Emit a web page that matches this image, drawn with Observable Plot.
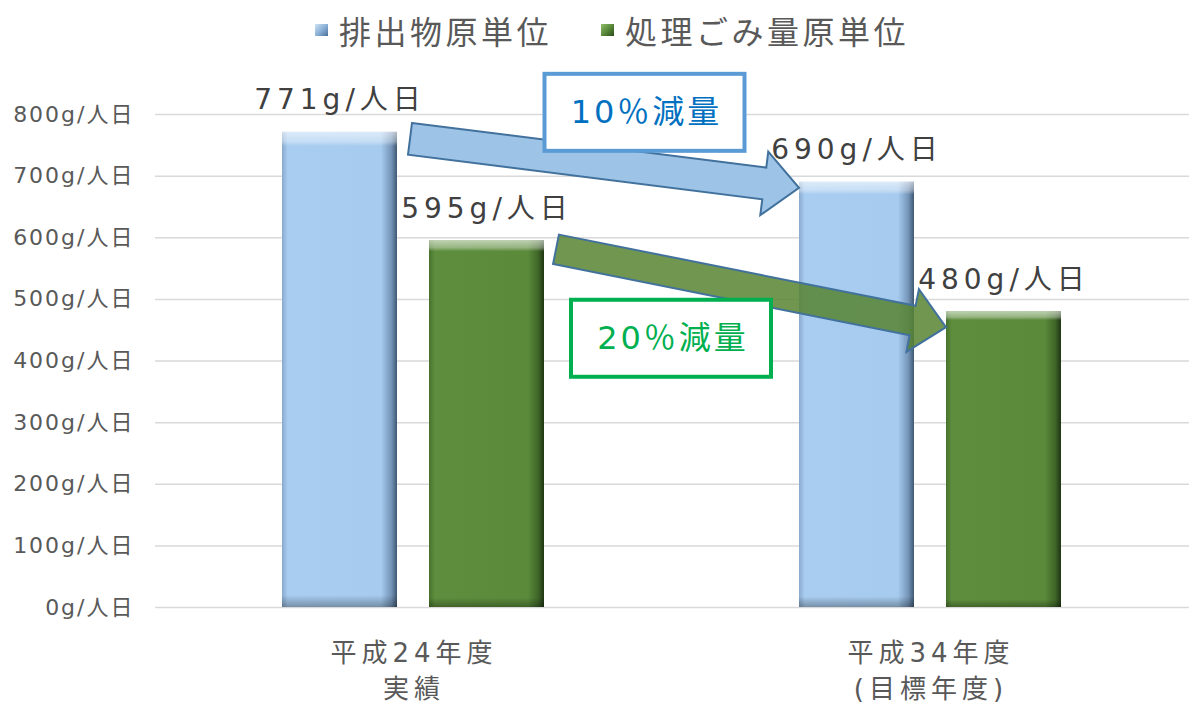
<!DOCTYPE html>
<html>
<head>
<meta charset="utf-8">
<script src="https://cdn.jsdelivr.net/npm/d3@7"></script>
<script src="https://cdn.jsdelivr.net/npm/@observablehq/plot@0.6"></script>
<style>
  body { margin: 0; background: #fff; font-family: "DejaVu Sans", "Noto Sans CJK JP", sans-serif; }
  #legend { position: relative; height: 64px; width: 1189px; }
  .item { position: absolute; top: 0; height: 60px; display: flex; align-items: center;
          font-family: "Noto Sans CJK JP", sans-serif; font-size: 32px; letter-spacing: 3.5px; color: #595959; }
  .sw { width: 13px; height: 12px; margin-right: 11px; }
  #chart svg { display: block; }
  #chart [aria-label^="y-axis"] text { letter-spacing: 2px; }
</style>
</head>
<body>
<div id="legend"></div>
<div id="chart"></div>
<script>
// ---- data ----
const years = ["平成24年度", "平成34年度"];
const yearLabels = ["平成24年度\n実績", "平成34年度\n(目標年度)"];
const series = ["排出物原単位", "処理ごみ量原単位"];
const emissionValues = [771, 690];
const processedValues = [595, 480];
const yTicks = [0, 100, 200, 300, 400, 500, 600, 700, 800];
const unit = "g/人日";
const changeLabels = ["10％減量", "20％減量"];

const data = years.flatMap((yr, i) => [
  {year: yr, series: series[0], value: emissionValues[i]},
  {year: yr, series: series[1], value: processedValues[i]}
]);
const labelRows = years.map((yr, i) => ({year: yr, label: yearLabels[i]}));

// ---- legend ----
const legend = document.getElementById("legend");
const legendSwatches = ["linear-gradient(135deg,#cfe3f7,#7fa6cf 60%,#4c6e93)", "linear-gradient(135deg,#8fbf6a,#4f7f31 60%,#2c4a1b)"];
const legendLeft = [315, 601];
series.forEach((s, i) => {
  const it = document.createElement("div");
  it.className = "item";
  it.style.left = legendLeft[i] + "px";
  it.innerHTML = `<div class="sw" style="background:${legendSwatches[i]}"></div><span>${s}</span>`;
  legend.appendChild(it);
});

// ---- chart ----
const W = 1189, H = 638;
const plot = Plot.plot({
  width: W, height: H,
  marginLeft: 154, marginRight: 0, marginTop: 50, marginBottom: 95,
  style: {fontFamily: '"DejaVu Sans","Noto Sans CJK JP",sans-serif', fontSize: "22px", color: "#595959", background: "white", overflow: "visible"},
  fx: {domain: years, padding: 0, axis: null},
  x: {domain: series, paddingInner: 0.216, paddingOuter: 0.857, axis: null},
  y: {domain: [0, 800], ticks: yTicks, tickFormat: d => d + unit, tickSize: 0, tickPadding: 21, label: null},
  marks: [
    Plot.ruleY(yTicks, {stroke: "#d9d9d9", strokeWidth: 1.5}),
    Plot.barY(data.filter(d => d.series === series[0]), {fx: "year", x: "series", y: "value", fill: "url(#gblue)"}),
    Plot.barY(data.filter(d => d.series === series[1]), {fx: "year", x: "series", y: "value", fill: "url(#ggreen)"}),
    Plot.barY(data, {fx: "year", x: "series", y: "value", fill: "url(#gtop)"}),
    Plot.text(data, {fx: "year", x: "series", y: "value", text: d => d.value + unit, dy: -32, fontSize: 28, fill: "#404040"}),
    Plot.text(labelRows, {fx: "year", text: "label", frameAnchor: "bottom", lineAnchor: "top", dy: 29, fontSize: 26, lineHeight: 1.38, fill: "#595959"})
  ]
});
document.getElementById("chart").appendChild(plot);

const svg = d3.select(plot);
const textGroups = plot.querySelectorAll('g[aria-label="text"]');
if (textGroups[0]) textGroups[0].setAttribute("style", "letter-spacing:5px");
if (textGroups[1]) textGroups[1].setAttribute("style", "letter-spacing:5px");

// gradients
const defs = svg.insert("defs", ":first-child");
function hgrad(id, stops) {
  const g = defs.append("linearGradient").attr("id", id).attr("x1", 0).attr("x2", 1).attr("y1", 0).attr("y2", 0);
  stops.forEach(([o, c]) => g.append("stop").attr("offset", o).attr("stop-color", c));
}
hgrad("gblue", [[0, "#88a9cc"], [0.05, "#a9cdf1"], [0.86, "#a6cbef"], [0.95, "#7595b8"], [1, "#3f5872"]]);
hgrad("ggreen", [[0, "#46722c"], [0.05, "#5e8e3d"], [0.86, "#5a8a3a"], [0.95, "#3f6628"], [1, "#1f3514"]]);
const gt = defs.append("linearGradient").attr("id", "gtop").attr("x1", 0).attr("x2", 0).attr("y1", 0).attr("y2", 1);
[[0, "white", 0.6], [0.02, "white", 0.35], [0.03, "white", 0], [0.975, "black", 0], [1, "black", 0.3]].forEach(([o, c, op]) =>
  gt.append("stop").attr("offset", o).attr("stop-color", c).attr("stop-opacity", op));

// ---- annotation arrows positioned from the scales ----
const fxS = plot.scale("fx"), xS = plot.scale("x"), yS = plot.scale("y");
const bw = xS.bandwidth;
const x0 = Math.min(...xS.range);
const barLeft = (yr, s) => fxS.apply(yr) + xS.apply(s) - x0;

function blockArrow(T, P, sw, hw, hl) {
  const dx = P[0] - T[0], dy = P[1] - T[1], L = Math.hypot(dx, dy);
  const u = [dx / L, dy / L], n = [-u[1], u[0]];
  const B = [P[0] - u[0] * hl, P[1] - u[1] * hl];
  const pt = (p, k) => [p[0] + n[0] * k, p[1] + n[1] * k];
  const pts = [pt(T, -sw), pt(B, -sw), pt(B, -hw), P, pt(B, hw), pt(B, sw), pt(T, sw)];
  return "M" + pts.map(p => p.join(",")).join("L") + "Z";
}

const ann = svg.append("g").attr("class", "annotations");
// blue: emissions 771 -> 690
const bT = [barLeft(years[0], series[0]) + bw + 13, yS.apply(emissionValues[0]) + 7];
const bP = [barLeft(years[1], series[0]), yS.apply(emissionValues[1]) + 6];
// green: processed 595 -> 480
const gT = [barLeft(years[0], series[1]) + bw + 12, yS.apply(processedValues[0]) + 9];
const gP = [barLeft(years[1], series[1]), yS.apply(processedValues[1]) + 16];

ann.append("path").attr("d", blockArrow(bT, bP, 16, 32, 35))
  .attr("fill", "#9dc3e6").attr("stroke", "#41719c").attr("stroke-width", 2).attr("stroke-linejoin", "miter");
ann.append("path").attr("d", blockArrow(gT, gP, 15, 32, 34))
  .attr("fill", "#578431").attr("fill-opacity", 0.85).attr("stroke", "#41719c").attr("stroke-width", 2);

function box(cx, cy, stroke, color, label) {
  const w = 200, h = 77;
  ann.append("rect").attr("x", cx - w / 2).attr("y", cy - h / 2).attr("width", w).attr("height", h)
    .attr("fill", "white").attr("stroke", stroke).attr("stroke-width", 4);
  ann.append("text").attr("x", cx + 2).attr("y", cy).attr("text-anchor", "middle").attr("dominant-baseline", "central")
    .attr("fill", color).attr("font-size", 32).attr("letter-spacing", "3px")
    .attr("font-family", '"DejaVu Sans","Noto Sans CJK JP",sans-serif').text(label);
}
const bMid = [(bT[0] + bP[0]) / 2, (bT[1] + bP[1]) / 2];
const gMid = [(gT[0] + gP[0]) / 2, (gT[1] + gP[1]) / 2];
box(bMid[0] + 40, bMid[1] - 51, "#5b9bd5", "#0070c0", changeLabels[0]);
box(gMid[0] - 80, gMid[1] + 50, "#00b050", "#00b050", changeLabels[1]);
</script>
</body>
</html>
